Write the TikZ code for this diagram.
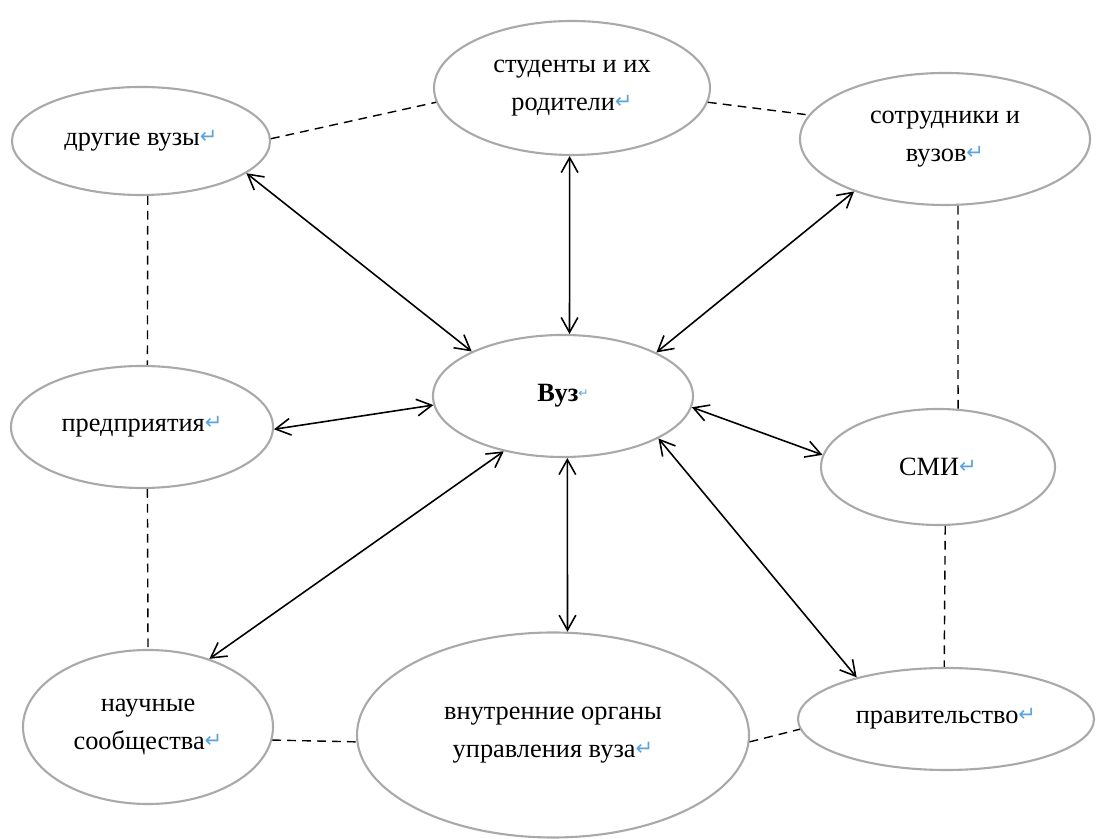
\documentclass[tikz,border=0pt]{standalone}
\usepackage{fontspec}
\setmainfont{Liberation Serif}
\newfontfamily\markfont{DejaVu Sans}
\usetikzlibrary{shapes.geometric,arrows.meta}
\definecolor{markblue}{HTML}{5AA5DC}
\definecolor{rimgray}{HTML}{A9A9A9}
\newcommand{\pmark}{{\markfont\fontsize{12}{12}\selectfont\color{markblue}\raisebox{0.1em}{↵}}}
\newcommand{\pmarksm}{{\markfont\fontsize{7}{7}\selectfont\color{markblue}\raisebox{0.35em}{↵}}}

\begin{document}
\begin{tikzpicture}[every node/.style={font=\fontsize{15}{22}\selectfont},
    actor/.style={ellipse,draw=rimgray,line width=1.2pt,inner sep=0pt,align=center},
    link/.style={<->,>={Straight Barb[length=8.5pt,width=9.5pt]},line width=0.9pt},
    tie/.style={dash pattern=on 5pt off 3.5pt,line width=0.8pt}]
    \useasboundingbox (0,0) rectangle (21.92,16.78);
    \node[actor,minimum width=5.2cm,minimum height=2.44cm] (vuz) at (11.26,8.86) {\textbf{Вуз}\pmarksm};
    \node[actor,minimum width=5.16cm,minimum height=2.16cm] (dv) at (2.82,13.96) {другие вузы\pmark};
    \node[actor,minimum width=5.52cm,minimum height=2.68cm] (st) at (11.44,15.02) {студенты и их\\родители\pmark};
    \node[actor,minimum width=5.8cm,minimum height=2.64cm] (so) at (18.9,14.0) {сотрудники и\\вузов\pmark};
    \node[actor,minimum width=5.24cm,minimum height=2.44cm] (pr) at (2.84,8.24) {предприятия\pmark};
    \node[actor,minimum width=4.68cm,minimum height=2.32cm] (smi) at (18.76,7.44) {СМИ\pmark};
    \node[actor,minimum width=5.0cm,minimum height=3.08cm] (nau) at (2.96,2.24) {научные\\сообщества\pmark};
    \node[actor,minimum width=7.84cm,minimum height=4.1cm] (vn) at (11.06,2.08) {внутренние органы\\управления вуза\pmark};
    \node[actor,minimum width=5.92cm,minimum height=2.04cm] (prav) at (18.92,2.4) {правительство\pmark};
    \draw[link] (dv.-17) -- (vuz.154);
    \draw[link] (st.-92) -- (vuz.84);
    \draw[link] (so.-150) -- (vuz.25);
    \draw[link] (pr.-1) -- (vuz.-176);
    \draw[link] (vuz.-5) -- (smi.174);
    \draw[link] (vuz.-137) -- (nau.48);
    \draw[link] (vuz.-86) -- (vn.82);
    \draw[link] (vuz.-24) -- (prav.155);
    \draw[tie] (dv.1) -- (st.-174);
    \draw[tie] (st.-6) -- (so.170);
    \draw[tie] (dv.-83) -- (pr.85);
    \draw[tie] (pr.-85) -- (nau.90);
    \draw[tie] (so.-79) -- (smi.71);
    \draw[tie] (smi.-83) -- (prav.92);
    \draw[tie] (nau.-6) -- (vn.-178);
    \draw[tie] (vn.-2) -- (prav.-176);
\end{tikzpicture}
\end{document}
